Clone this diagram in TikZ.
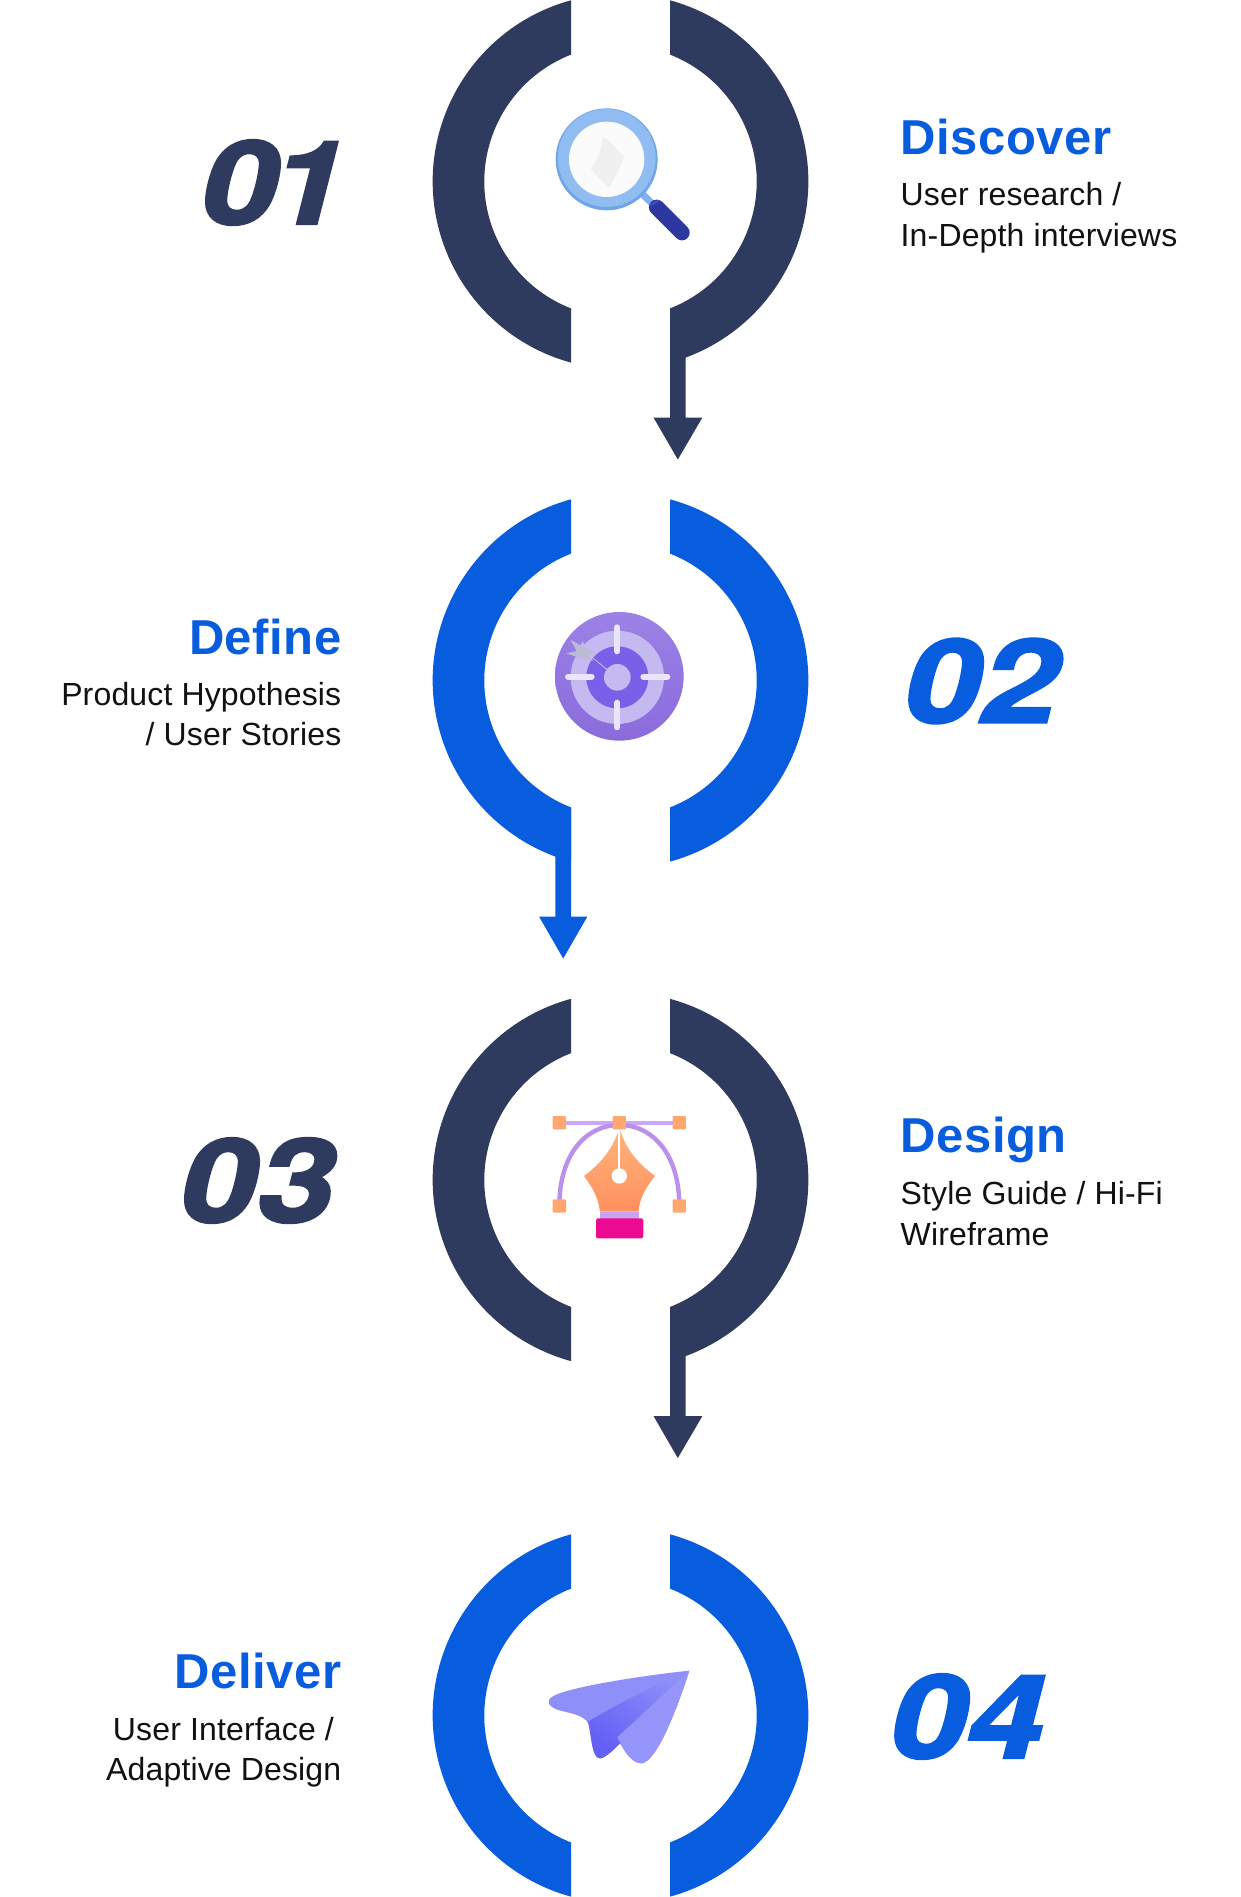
\documentclass[tikz,border=0pt]{standalone}
\usepackage{fontspec}
\setmainfont{Liberation Sans}
\newfontfamily\numfont[FakeBold=2,FakeStretch=1.2]{TeX Gyre Heros}
\newfontfamily\headfont[LetterSpace=1]{Liberation Sans Bold}
\newfontfamily\subfont[LetterSpace=0.5]{Liberation Sans}
\definecolor{navy}{HTML}{2F3B5E}
\definecolor{brand}{HTML}{085CDE}
\definecolor{ink}{HTML}{111111}
\definecolor{magA}{HTML}{7FB2EE}
\definecolor{magB}{HTML}{2D37A0}
\definecolor{magC}{HTML}{4A55C8}
\definecolor{magD}{HTML}{6FA5E8}
\definecolor{magE}{HTML}{90BCF2}
\definecolor{magF}{HTML}{FBFBFB}
\definecolor{magG}{HTML}{F0F0F0}
\definecolor{tgtA}{HTML}{9C82E6}
\definecolor{tgtB}{HTML}{8A6BDC}
\definecolor{tgtC}{HTML}{7A60E8}
\definecolor{tgtD}{HTML}{C4B9F0}
\definecolor{tgtE}{HTML}{E9E5FA}
\definecolor{tgtF}{HTML}{C6C3DE}
\definecolor{tgtG}{HTML}{BDBAD6}
\definecolor{penA}{HTML}{CDA6F7}
\definecolor{penB}{HTML}{BB90EC}
\definecolor{penC}{HTML}{FFB67E}
\definecolor{penD}{HTML}{FF8F5E}
\definecolor{penE}{HTML}{C9A2F2}
\definecolor{penF}{HTML}{EC0A92}
\definecolor{penG}{HTML}{FFA76F}
\definecolor{plnA}{HTML}{8F8FF9}
\definecolor{plnB}{HTML}{6460F6}
\definecolor{plnD}{HTML}{9595FB}
\tikzset{
  headtext/.style={inner sep=0,font=\headfont\fontsize{49}{49}\selectfont,text=brand},
  subtext/.style={inner sep=0,font=\subfont\fontsize{32}{32}\selectfont,text=ink},
  numtext/.style={inner sep=0,font=\numfont\bfseries\itshape\fontsize{116}{116}\selectfont},
  icon/.style={x=0.3333pt,y=-0.3333pt},
}
\newcommand{\ringpair}[2]{%
  \fill[#2] (670,{#1-181.2}) arc[start angle=74.72,end angle=-74.72,radius=187.8pt]
    -- (670,{#1+126.9}) arc[start angle=-68.69,end angle=68.69,radius=136.2pt] -- cycle;
  \fill[#2] (571,{#1-181.2}) arc[start angle=105.28,end angle=254.72,radius=187.8pt]
    -- (571,{#1+126.9}) arc[start angle=248.69,end angle=111.31,radius=136.2pt] -- cycle;
}
\newcommand{\arrowright}[2]{%
  \fill[#2] (670,{#1+126.9}) -- (670,{#1+236}) -- (653.5,{#1+236}) -- (677.8,{#1+278})
    -- (702.4,{#1+236}) -- (685.7,{#1+236}) -- (685.7,{#1+170}) -- cycle;
}
\newcommand{\arrowleft}[2]{%
  \fill[#2] (571,{#1+126.9}) -- (571,{#1+236}) -- (587.4,{#1+236}) -- (563.2,{#1+278})
    -- (539,{#1+236}) -- (555.3,{#1+236}) -- (555.3,{#1+170}) -- cycle;
}
\begin{document}
\begin{tikzpicture}[x=1pt,y=-1pt]
\useasboundingbox (0,0) rectangle (1241,1897);
\fill[white] (0,0) rectangle (1241,1897);
\ringpair{181.5}{navy}
\ringpair{680.5}{brand}
\ringpair{1180}{navy}
\ringpair{1715.5}{brand}
\arrowright{181.5}{navy}
\arrowleft{680.5}{brand}
\arrowright{1180}{navy}

% numbers
\node[numtext,text=navy,anchor=base east] (n1) at (347,224) {0\kern-8pt 1};
\node[numtext,text=brand,anchor=base west] (n2) at (903,722.5) {02};
\node[numtext,text=navy,anchor=base east] (n3) at (334,1222) {03};
\node[numtext,text=brand,anchor=base west] (n4) at (889,1758) {04};

% texts
\node[headtext,anchor=base west] (h1) at (900.5,155) {Discover};
\node[subtext,anchor=base west] (s1a) at (900.5,206) {User research /};
\node[subtext,anchor=base west] (s1b) at (900.5,246.7) {In-Depth interviews};
\node[headtext,anchor=base east] (h2) at (341.5,654) {Define};
\node[subtext,anchor=base east] (s2a) at (341.5,705) {Product Hypothesis};
\node[subtext,anchor=base east] (s2b) at (341.5,745.7) {/ User Stories};
\node[headtext,anchor=base west] (h3) at (900.5,1152.5) {Design};
\node[subtext,anchor=base west] (s3a) at (900.5,1204) {Style Guide / Hi-Fi};
\node[subtext,anchor=base west] (s3b) at (900.5,1245) {Wireframe};
\node[headtext,anchor=base east] (h4) at (341.5,1688) {Deliver};
\node[subtext,anchor=base east] (s4a) at (334,1740.5) {User Interface /};
\node[subtext,anchor=base east] (s4b) at (341.5,1780) {Adaptive Design};

% magnifier
\begin{scope}[shift={(530,90)},icon]
  \draw[line width=7pt,color=magA] (335,310) -- (378,352);
  \draw[line width=15.5pt,line cap=round,color=magB] (380,352) -- (456,428);
  \draw[line width=1.5pt,line cap=round,color=magC] (362,345) -- (385,332);
  \fill[color=magD] (230,208) circle[radius=153];
  \fill[color=magE] (230,204) circle[radius=147];
  \fill[color=magF] (230,208) circle[radius=113];
  \fill[color=magG] (218,140) .. controls (240,150) and (260,180) .. (282,200)
     .. controls (270,235) and (250,270) .. (238,293)
     .. controls (215,270) and (190,250) .. (182,235)
     .. controls (205,210) and (215,175) .. (218,140) -- cycle;
\end{scope}

% target
\begin{scope}[shift={(530,590)},icon]
  \shade[top color=tgtA,bottom color=tgtB] (268,259) circle[radius=193];
  \fill[color=tgtD] (262,262) circle[radius=140];
  \fill[color=tgtC] (262,262) circle[radius=93];
  \fill[color=tgtD] (262,262) circle[radius=40];
  \draw[line width=6pt,line cap=round,color=tgtE]
    (262,112) -- (262,184) (262,338) -- (262,412) (114,260) -- (185,260) (340,260) -- (412,260);
  \fill[color=tgtF] (172,192) -- (185,200) -- (268,266) -- (258,262) -- cycle;
  \fill[color=tgtG] (122,150) -- (152,166) -- (158,152) -- (165,172) -- (195,185) -- (172,195)
     -- (190,213) -- (155,205) -- (108,190) -- (140,183) -- cycle;
\end{scope}

% pen tool
\begin{scope}[shift={(530,1100)},icon]
  \draw[line width=4pt,color=penA] (88,68) -- (448,68);
  \draw[line width=4.4pt,color=penB] (88,318) .. controls (88,160) and (170,75) .. (268,75)
    .. controls (366,75) and (448,160) .. (448,318);
  \shade[top color=penC,bottom color=penD]
    (268,85) .. controls (250,140) and (220,185) .. (162,228)
    .. controls (185,260) and (205,290) .. (210,335) -- (325,335)
    .. controls (330,290) and (350,260) .. (375,228)
    .. controls (316,185) and (286,140) .. (268,85) -- cycle;
  \draw[line width=1.7pt,color=white] (268,88) -- (268,215);
  \fill[color=white] (268,228) circle[radius=23];
  \fill[color=penE] (210,335) rectangle (327,358);
  \fill[color=penF,rounded corners=1.5pt] (198,355) rectangle (340,415);
  \foreach \hx/\hy in {88/68,268/68,448/68,88/318,448/318}{
    \fill[color=penG,rounded corners=1pt] (\hx-20,\hy-20) rectangle (\hx+20,\hy+20);
  }
\end{scope}

% paper plane
\begin{scope}[shift={(530,1650)},icon]
  \fill[color=plnA] (478,62) .. controls (350,75) and (120,110) .. (70,138)
    .. controls (45,152) and (55,170) .. (85,180)
    .. controls (120,190) and (165,195) .. (175,222)
    .. controls (185,260) and (185,325) .. (210,325)
    .. controls (225,325) and (250,300) .. (270,280)
    .. controls (285,305) and (305,340) .. (335,340)
    .. controls (380,335) and (440,180) .. (478,62) -- cycle;
  \shade[top color=plnA,bottom color=plnB,shading angle=-40]
    (478,62) .. controls (420,85) and (280,150) .. (175,215)
    .. controls (185,260) and (185,325) .. (210,325)
    .. controls (225,325) and (250,300) .. (270,280) -- cycle;
  \fill[color=plnD] (478,62) -- (262,262) -- (272,280)
    .. controls (285,305) and (305,340) .. (335,340)
    .. controls (380,335) and (440,180) .. (478,62) -- cycle;
\end{scope}
\end{tikzpicture}
\end{document}
